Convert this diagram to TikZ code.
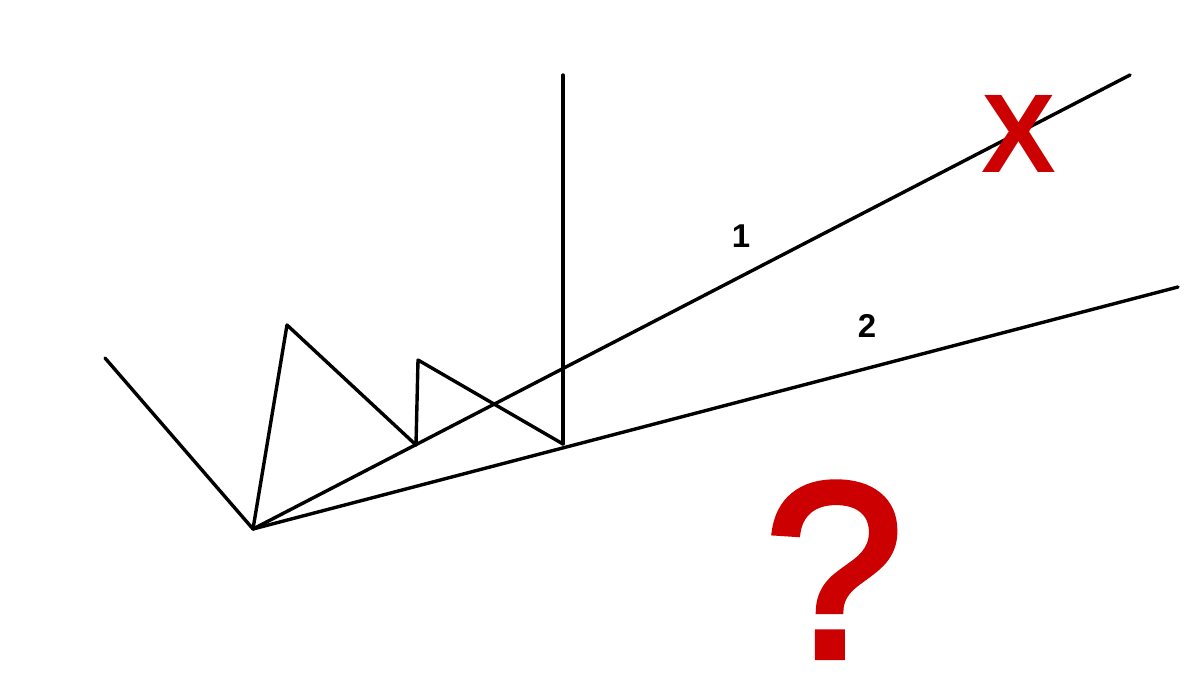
\documentclass[tikz,border=0pt]{standalone}
\usepackage{fontspec}
\setmainfont{Liberation Sans}
\newfontfamily\qfont[FakeBold=2.5]{Liberation Sans}
\definecolor{markred}{RGB}{204,0,0}
\tikzset{
  wave/.style={line width=3.4pt, black, line join=round, line cap=round},
  numlabel/.style={font=\bfseries\fontsize{33}{33}\selectfont, inner sep=0pt},
  redmark/.style={text=markred, inner sep=0pt}
}
\begin{document}
\begin{tikzpicture}[x=1pt,y=-1pt]
\useasboundingbox[fill=white] (0,0) rectangle (1202,695);
\coordinate (s) at (105,358);
\coordinate (low) at (253,529);
\coordinate (p1) at (287,325);
\coordinate (t1) at (416,445);
\coordinate (p2) at (418,360);
\coordinate (t2) at (563,444);
\coordinate (vtop) at (563,75);
\coordinate (e1) at (1130,75);
\coordinate (e2) at (1178,287);
\draw[wave] (s) -- (low) -- (p1) -- (t1) -- (p2) -- (t2);
\draw[wave] (t2) -- (vtop);
\draw[wave] (low) -- (e1);
\draw[wave] (low) -- (e2);
\node[numlabel] (l1) at (741,236) {1};
\node[numlabel] (l2) at (867,326) {2};
\node[redmark, font=\bfseries\fontsize{112}{112}\selectfont] (x) at (1019,134) {X};
\node[redmark, font=\qfont\fontsize{250}{250}\selectfont, anchor=base] (q) at (834,657) {?};
\end{tikzpicture}
\end{document}
